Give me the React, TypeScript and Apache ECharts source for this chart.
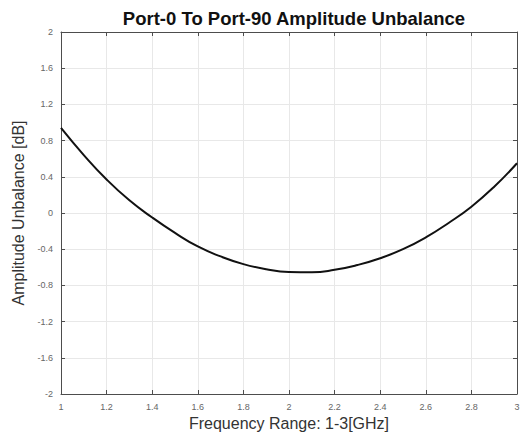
import React, { useEffect, useRef } from "react";
import * as echarts from "echarts";

const freqGHz = [1.0, 1.1, 1.2, 1.3, 1.4, 1.5, 1.6, 1.7, 1.8, 1.9, 2.0, 2.1, 2.2, 2.3, 2.4, 2.5, 2.6, 2.7, 2.8, 2.9, 3.0];
const unbalanceDb = [0.94, 0.64, 0.37, 0.14, -0.05, -0.22, -0.37, -0.48, -0.565, -0.622, -0.652, -0.655, -0.628, -0.575, -0.5, -0.4, -0.27, -0.11, 0.07, 0.29, 0.55];

const titleText = "Port-0 To Port-90 Amplitude Unbalance";
const xName = "Frequency Range: 1-3[GHz]";
const yName = "Amplitude Unbalance [dB]";

export default function App() {
  const ref = useRef<HTMLDivElement>(null);
  useEffect(() => {
    if (!ref.current) return;
    const chart = echarts.init(ref.current, null, { renderer: "svg" });
    const fmt = (v: number) => String(+v.toFixed(1));
    const axisLineStyle = { color: "#4d4d4d", width: 1 };
    const grid = { left: 61, right: 6, top: 32, bottom: 43 };
    chart.setOption({
      animation: false,
      backgroundColor: "#ffffff",
      title: {
        text: titleText,
        left: 289,
        textAlign: "center",
        top: 4,
        textStyle: { fontFamily: "Liberation Sans, Arial", fontWeight: "bold", fontSize: 18.5, color: "#111" },
      },
      grid,
      xAxis: [
        {
          type: "value",
          min: 1,
          max: 3,
          interval: 0.2,
          name: xName,
          nameLocation: "middle",
          nameGap: 18,
          nameTextStyle: { fontFamily: "Liberation Sans, Arial", fontSize: 16, color: "#333" },
          axisLine: { show: true, onZero: false, lineStyle: axisLineStyle },
          axisTick: { show: true, inside: true, length: 4, lineStyle: axisLineStyle },
          axisLabel: { formatter: fmt, fontFamily: "Liberation Sans, Arial", fontSize: 9, color: "#666", margin: 8 },
          splitLine: { show: true, lineStyle: { color: "#e8e8e8", width: 1 } },
        },
        {
          type: "value",
          position: "top",
          min: 1,
          max: 3,
          interval: 0.2,
          axisLine: { show: true, onZero: false, lineStyle: axisLineStyle },
          axisTick: { show: true, inside: true, length: 4, lineStyle: axisLineStyle },
          axisLabel: { show: false },
          splitLine: { show: false },
        },
      ],
      yAxis: [
        {
          type: "value",
          min: -2,
          max: 2,
          interval: 0.4,
          name: yName,
          nameLocation: "middle",
          nameGap: 25,
          nameTextStyle: { fontFamily: "Liberation Sans, Arial", fontSize: 16, color: "#333" },
          axisLine: { show: true, onZero: false, lineStyle: axisLineStyle },
          axisTick: { show: true, inside: true, length: 4, lineStyle: axisLineStyle },
          axisLabel: { formatter: fmt, fontFamily: "Liberation Sans, Arial", fontSize: 9, color: "#666", margin: 8 },
          splitLine: { show: true, lineStyle: { color: "#e8e8e8", width: 1 } },
        },
        {
          type: "value",
          position: "right",
          min: -2,
          max: 2,
          interval: 0.4,
          axisLine: { show: true, onZero: false, lineStyle: axisLineStyle },
          axisTick: { show: true, inside: true, length: 4, lineStyle: axisLineStyle },
          axisLabel: { show: false },
          splitLine: { show: false },
        },
      ],
      series: [
        {
          type: "line",
          data: freqGHz.map((f, i) => [f, unbalanceDb[i]]),
          smooth: 0.5,
          showSymbol: false,
          lineStyle: { color: "#111", width: 2 },
        },
      ],
    });
    return () => chart.dispose();
  }, []);
  return <div ref={ref} style={{ position: "fixed", left: 0, top: 0, width: 523, height: 437 }} />;
}
